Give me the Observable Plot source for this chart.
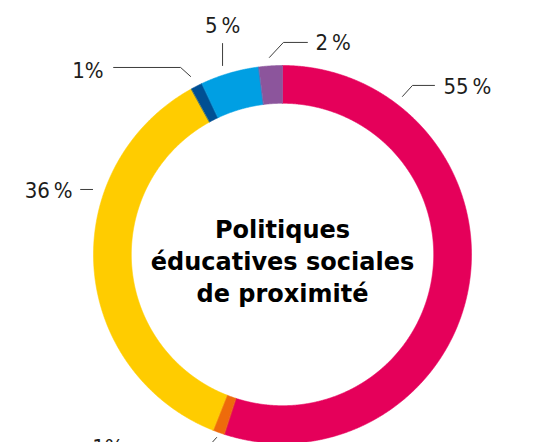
<!DOCTYPE html>
<html><head><meta charset="utf-8">
<script src="https://cdn.jsdelivr.net/npm/d3@7"></script>
<script src="https://cdn.jsdelivr.net/npm/@observablehq/plot@0.6"></script>
<style>body{margin:0;background:#fff;} svg{display:block;}</style>
</head><body><div id="chart"></div>
<script>
// ---- data ----
const segments = ["A", "B", "C", "D", "E", "F"];
const values = [55, 1, 36, 1, 5, 2];
const labels = ["55\u2009%", "1%", "36\u2009%", "1%", "5\u2009%", "2\u2009%"];
const colors = ["#e5005a", "#ee6b0b", "#ffcc00", "#004f93", "#009fe3", "#8c559c"];
const centerTitle = ["Politiques", "éducatives sociales", "de proximité"];

// ---- layout (not data) ----
const W = 547, H = 442;
const R_PX = 189, CX = 282, CY = 254, INNER = 0.8;
const labelLayout = [
  {angle: 37.2,  r: 1.05,  path: [[10, -11], [32, -11]], anchor: "start",  off: [9, 1.5]},
  {angle: 199.8, r: 1.029, path: [[-9, 10], [-83, 10]],  anchor: "end",    off: [-10, 0]},
  {angle: 288.9, r: 1.062, path: [[-12, 0]],             anchor: "end",    off: [-8, 1.5]},
  {angle: 332.7, r: 1.06,  path: [[-10, -9], [-77, -9]], anchor: "end",    off: [-10, 3]},
  {angle: 342.4, r: 1.049, path: [[0, -22]],             anchor: "middle", off: [0, -18]},
  {angle: 356.2, r: 1.045, path: [[14, -15], [38, -15]], anchor: "start",  off: [8, 1]}
];

const arcs = d3.pie().sort(null).value(d => d)(values);
const polar = (a, r) => ({x: r * Math.sin(a), y: r * Math.cos(a)});

// ring polygons (geometry sampling of each slice's arc)
const ringPts = [];
arcs.forEach((p, i) => {
  const a0 = p.startAngle, a1 = p.endAngle;
  const n = Math.max(2, Math.ceil((a1 - a0) / (Math.PI / 720)) + 1);
  for (let k = 0; k < n; k++) {
    const a = a0 + (a1 - a0) * k / (n - 1);
    ringPts.push({seg: segments[i], ...polar(a, 1)});
  }
  for (let k = n - 1; k >= 0; k--) {
    const a = a0 + (a1 - a0) * k / (n - 1);
    ringPts.push({seg: segments[i], ...polar(a, INNER)});
  }
});

// leaders and labels
const leaderPts = [];
const labelPts = [];
labelLayout.forEach((L, i) => {
  const s = polar(L.angle * Math.PI / 180, L.r);
  leaderPts.push({seg: segments[i], x: s.x, y: s.y});
  let last = s;
  L.path.forEach(([dx, dy]) => {
    last = {x: s.x + dx / R_PX, y: s.y - dy / R_PX};
    leaderPts.push({seg: segments[i], ...last});
  });
  labelPts.push({
    seg: segments[i], text: labels[i], anchor: L.anchor,
    x: last.x + L.off[0] / R_PX, y: last.y - L.off[1] / R_PX
  });
});

const labelFont = '"DejaVu Sans Condensed", "Liberation Sans Narrow", sans-serif';
const textMark = anchor => Plot.text(labelPts.filter(d => d.anchor === anchor), {
  x: "x", y: "y", text: "text", textAnchor: anchor, lineAnchor: "middle",
  fontSize: 22, fontFamily: labelFont, fill: "#1d1d1b"
});

const chart = Plot.plot({
  width: W, height: H,
  margin: 0,
  x: {domain: [-1, 1], range: [CX - R_PX, CX + R_PX], axis: null},
  y: {domain: [-1, 1], range: [CY + R_PX, CY - R_PX], axis: null},
  color: {domain: segments, range: colors},
  style: {background: "#fff"},
  marks: [
    Plot.line(ringPts, {x: "x", y: "y", z: "seg", fill: "seg", stroke: "seg", strokeWidth: 0.6, curve: "linear-closed"}),
    Plot.line(leaderPts, {x: "x", y: "y", z: "seg", stroke: "#3c3c3b", strokeWidth: 1}),
    textMark("start"), textMark("end"), textMark("middle"),
    Plot.text([{x: 0, y: 0, t: centerTitle.join("\n")}], {
      x: "x", y: "y", text: "t", textAnchor: "middle", lineAnchor: "middle",
      lineHeight: 1.333, dy: 5, fontSize: 24, fontWeight: "bold",
      fontFamily: '"DejaVu Sans", sans-serif', fill: "#000"
    })
  ]
});
document.getElementById("chart").appendChild(chart);
</script>
</body></html>
